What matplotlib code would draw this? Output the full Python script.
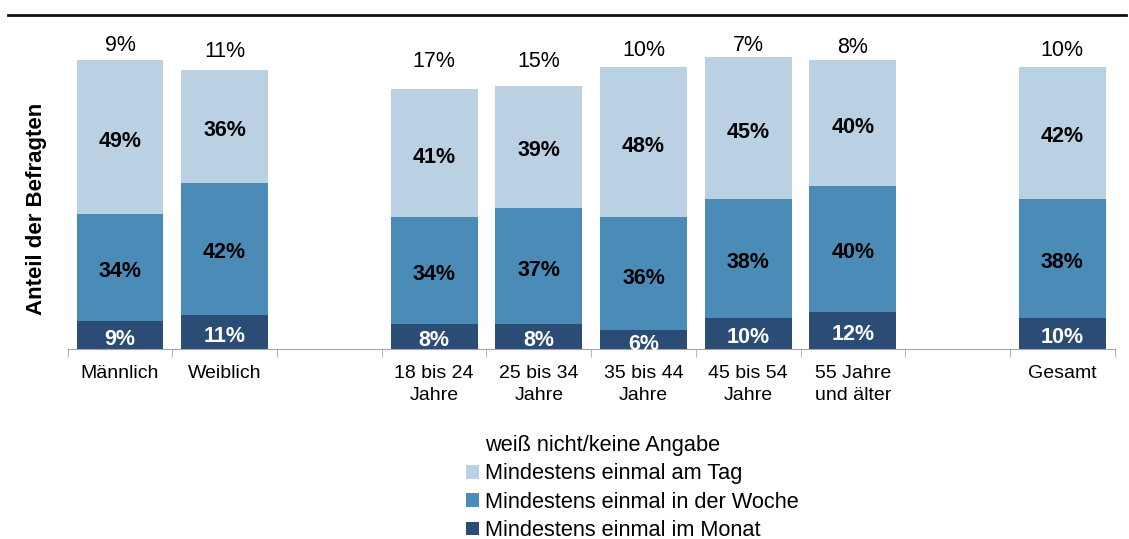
import numpy as np
import matplotlib
matplotlib.use("Agg")
import matplotlib.pyplot as plt
from matplotlib.lines import Line2D

plt.rcParams['font.family'] = ['Liberation Sans', 'DejaVu Sans']

# slots with "" are empty spacer columns
categories = ["Männlich", "Weiblich", "", "18 bis 24\nJahre", "25 bis 34\nJahre",
              "35 bis 44\nJahre", "45 bis 54\nJahre", "55 Jahre\nund älter", "", "Gesamt"]
monat = [9, 11, np.nan, 8, 8, 6, 10, 12, np.nan, 10]
woche = [34, 42, np.nan, 34, 37, 36, 38, 40, np.nan, 38]
tag = [49, 36, np.nan, 41, 39, 48, 45, 40, np.nan, 42]
weiss = [9, 11, np.nan, 17, 15, 10, 7, 8, np.nan, 10]

series = [
    ("Mindestens einmal im Monat", monat, "#2b4c74", "white", "bold"),
    ("Mindestens einmal in der Woche", woche, "#4b8bb8", "black", "bold"),
    ("Mindestens einmal am Tag", tag, "#b9d1e3", "black", "bold"),
    ("weiß nicht/keine Angabe", weiss, "white", "black", "normal"),
]


def main():
    fig = plt.figure(figsize=(11.29, 5.39), dpi=100)
    ax = fig.add_axes([0.0599, 0.352, 0.9274, 0.6408])

    x = np.arange(len(categories))
    bottom = np.zeros(len(categories))
    handles = []
    for name, vals, color, tcolor, weight in series:
        vals = np.array(vals, dtype=float)
        bars = ax.bar(x, vals, 0.83, bottom=bottom, color=color, label=name)
        labels = ["" if np.isnan(v) else "%d%%" % v for v in vals]
        anns = ax.bar_label(bars, labels=labels, label_type="center", color=tcolor,
                            fontsize=15.5, fontweight=weight)
        # inner labels sit a little below the segment centre in the original
        if weight == "bold":
            for a in anns:
                a.xyann = (0, -3)
        else:
            for a in anns:
                a.xyann = (0, 0.5)
        handles.append(bars)
        bottom = bottom + np.nan_to_num(vals)

    ax.set_xlim(-0.5, len(categories) - 0.5)
    ax.set_ylim(0, 110)
    ax.set_yticks([])
    for s in ["left", "right", "top"]:
        ax.spines[s].set_visible(False)
    ax.spines["bottom"].set_color("#a6a6a6")

    ax.set_xticks(x, categories, fontsize=14)
    ax.tick_params(axis="x", which="major", length=0, pad=11)
    for t in ax.get_xticklabels():
        t.set_linespacing(1.45)
    ax.set_xticks(np.arange(len(categories) + 1) - 0.5, minor=True)
    ax.tick_params(axis="x", which="minor", length=6, color="#a6a6a6")

    fig.text(0.032, 0.612, "Anteil der Befragten", rotation=90, ha="center",
             va="center", fontsize=16, fontweight="bold")

    fig.add_artist(Line2D([0.007, 0.997], [0.972, 0.972], color="#111111", lw=2))

    fig.legend(handles[::-1], [s[0] for s in series][::-1], loc="upper left",
               bbox_to_anchor=(0.413, 0.193), frameon=False, fontsize=15.7,
               handlelength=0.6, handleheight=0.6, handletextpad=0.25,
               labelspacing=0.34, borderpad=0, borderaxespad=0)

    fig.savefig("out.png", dpi=100)


if __name__ == "__main__":
    main()
